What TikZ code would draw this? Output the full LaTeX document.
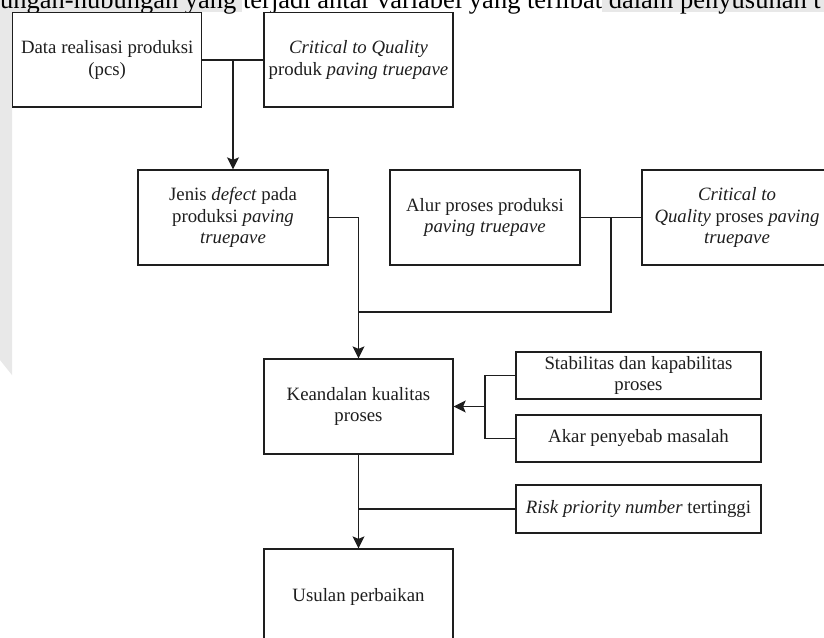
\documentclass[tikz,border=0pt]{standalone}
\usepackage{fontspec}
\setmainfont{Liberation Serif}
\usetikzlibrary{arrows.meta}
\definecolor{hl}{HTML}{E8E8E8}
\definecolor{ink}{HTML}{1E1E1E}
\tikzset{
  box/.style={draw=ink, line width=1.3pt, fill=white, inner sep=0pt, align=center,
    text=ink, font=\fontsize{18.8}{21.7}\selectfont},
  bigbox/.style={box, minimum width=189pt, minimum height=95pt},
  smallbox/.style={box, minimum width=245pt, minimum height=47pt},
  conn/.style={draw=ink, line width=1.3pt},
  arr/.style={conn, -{Stealth[length=12pt,width=12pt,inset=2.5pt]}}
}
\begin{document}
\begin{tikzpicture}[x=1pt,y=-1pt]
\useasboundingbox (0,0) rectangle (824,637);
\clip (0,0) rectangle (824,637);
\fill[white] (0,0) rectangle (824,637);
% background fragments
\fill[hl] (0,0) rectangle (242,12);
\fill[hl] (602,0) rectangle (824,12);
\fill[hl] (0,12) -- (12,12) -- (12,375) -- (0,360) -- cycle;
\node[anchor=base west, inner sep=0pt, text=black, font=\fontsize{26.5}{31}\selectfont] (top) at (0,8.5)
  {ungan-hubungan yang terjadi antar variabel yang terlibat dalam penyusunan t};
% boxes
\node[bigbox, minimum height=94.3pt] (b1) at (107.2,59.85) {Data realisasi produksi\\(pcs)};
\node[bigbox, minimum height=94.3pt] (b2) at (358.5,59.85) {\textit{Critical to Quality}\\produk \textit{paving truepave}};
\node[bigbox, minimum width=190pt] (b3) at (233,217.5) {Jenis \textit{defect} pada\\produksi \textit{paving}\\\textit{truepave}};
\node[bigbox, minimum width=190pt] (b4) at (485,217.5) {Alur proses produksi\\\textit{paving truepave}};
\node[bigbox, minimum width=190pt] (b5) at (737,217.5) {\textit{Critical to}\\\textit{Quality} proses \textit{paving}\\\textit{truepave}};
\node[bigbox] (k) at (358.5,406.5) {Keandalan kualitas\\proses};
\node[bigbox] (u) at (358.5,596.5) {Usulan perbaikan};
\node[smallbox] (s) at (638.5,375.5) {Stabilitas dan kapabilitas\\proses};
\node[smallbox] (a) at (638.5,438.5) {Akar penyebab masalah};
\node[smallbox, minimum height=48pt] (r) at (638.5,509) {\textit{Risk priority number} tertinggi};
% junction points
\coordinate (j1) at (233,59.85);
\coordinate (j2) at (611,217.5);
\coordinate (c1) at (358.5,312);
\coordinate (brk) at (485,406.5);
\coordinate (c2) at (358.5,509);
% connectors
\draw[conn] (b1.east) -- (b2.west);
\draw[arr] (j1) -- (b3.north);
\draw[conn] (b3.east) -| (c1);
\draw[conn] (b4.east) -- (b5.west);
\draw[conn] (j2) |- (c1);
\draw[arr] (c1) -- (k.north);
\draw[conn] (s.west) -| (brk) |- (a.west);
\draw[arr] (brk) -- (k.east);
\draw[arr] (k.south) -- (u.north);
\draw[conn] (r.west) -- (c2);
\end{tikzpicture}
\end{document}
